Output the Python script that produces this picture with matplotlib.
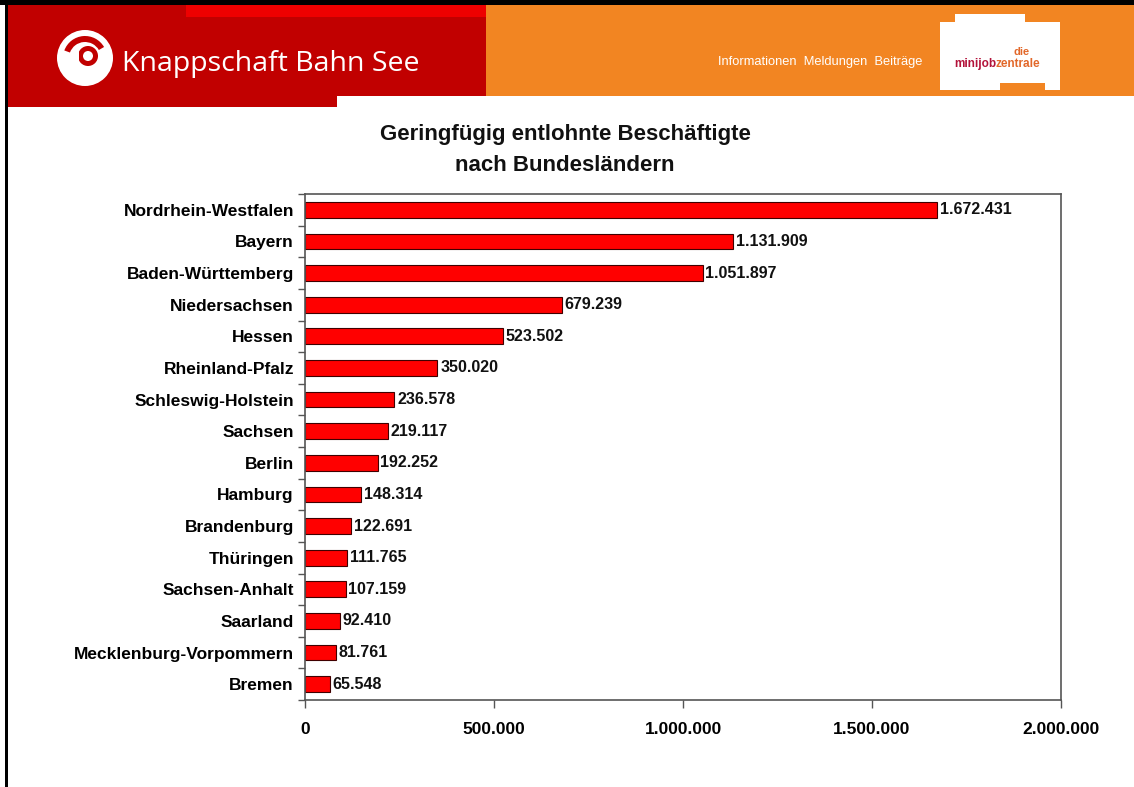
import matplotlib
matplotlib.use("Agg")
import matplotlib.pyplot as plt
from matplotlib.patches import Rectangle, Circle, Polygon, Wedge
from matplotlib.ticker import FuncFormatter, MultipleLocator

plt.rcParams['font.family'] = ['Liberation Sans', 'DejaVu Sans']

categories = ["Nordrhein-Westfalen", "Bayern", "Baden-Württemberg", "Niedersachsen",
              "Hessen", "Rheinland-Pfalz", "Schleswig-Holstein", "Sachsen", "Berlin",
              "Hamburg", "Brandenburg", "Thüringen", "Sachsen-Anhalt", "Saarland",
              "Mecklenburg-Vorpommern", "Bremen"]
values = [1672431, 1131909, 1051897, 679239, 523502, 350020, 236578, 219117, 192252,
          148314, 122691, 111765, 107159, 92410, 81761, 65548]
title = "Geringfügig entlohnte Beschäftigte\nnach Bundesländern"
xmax = 2000000


def de_fmt(v, pos=None):
    return f"{int(v):,}".replace(",", ".")


W, H = 1134, 787
fig = plt.figure(figsize=(W / 100, H / 100), dpi=100)

# --- header decoration layer (pixel coordinates) ---
bg = fig.add_axes([0, 0, 1, 1], zorder=0)
bg.set_xlim(0, W)
bg.set_ylim(H, 0)
bg.axis('off')
dark_red = '#C10000'
bg.add_patch(Rectangle((486, 5), W - 486, 91, color='#F28522', lw=0))
bg.add_patch(Rectangle((7, 5), 479, 91, color=dark_red, lw=0))
bg.add_patch(Rectangle((7, 96), 330, 11, color=dark_red, lw=0))
bg.add_patch(Rectangle((186, 5), 300, 12, color='#EE0000', lw=0))
bg.add_patch(Rectangle((0, 0), W, 5, color='black', lw=0))
bg.add_patch(Rectangle((5, 0), 2.5, H, color='black', lw=0))
# Knappschaft logo (approximation)
bg.add_patch(Circle((85, 58), 28, color='white', lw=0))
bg.add_patch(Wedge((85, 58), 22, 200, 330, width=6, color=dark_red, lw=0))
bg.add_patch(Circle((88, 56), 10, color=dark_red, lw=0))
bg.add_patch(Circle((88, 56), 5, color='white', lw=0))
bg.add_patch(Rectangle((73, 50), 6, 25, color='white', lw=0))
bg.text(122, 64, "Knappschaft Bahn See", color='white', fontsize=20.5,
        family=['Open Sans', 'DejaVu Sans'], va='center', ha='left')
bg.text(922, 62, "Informationen  Meldungen  Beiträge", color='white', fontsize=9.3,
        va='center', ha='right')
# minijob logo box
bg.add_patch(Polygon([(940, 22), (955, 22), (955, 14), (1025, 14), (1025, 22),
                      (1060, 22), (1060, 90), (1045, 90), (1045, 83), (1000, 83),
                      (1000, 90), (940, 90)], closed=True, color='white', lw=0))
bg.text(1022, 57, "die", color='#E2682A', fontsize=8, weight='bold', ha='center', va='bottom')
bg.text(996, 64, "minijob", color='#B3123A', fontsize=8.5, weight='bold', ha='right', va='center')
bg.text(996, 64, "zentrale", color='#E2682A', fontsize=8.5, weight='bold', ha='left', va='center')

# title
bg.text(565, 150, title, ha='center', va='center', fontsize=16, weight='bold',
        color='#111111', linespacing=1.6)

# --- chart ---
ax = fig.add_axes([305 / W, 1 - 700 / H, (1061 - 305) / W, (700 - 194) / H], zorder=2)
ax.patch.set_alpha(0)
y = list(range(len(categories)))
ax.barh(y, values, height=0.5, color='#FF0000', edgecolor='#400000', linewidth=0.8)
ax.set_xlim(0, xmax)
ax.set_ylim(len(categories) - 0.5, -0.5)
ax.set_yticks(y)
ax.set_yticklabels(categories, fontsize=12.5, weight='bold')
ax.set_yticks([i + 0.5 for i in range(-1, len(categories))], minor=True)
ax.tick_params(axis='y', which='major', length=0, pad=8)
ax.tick_params(axis='y', which='minor', length=5, width=1, color='#555555')
ax.xaxis.set_major_locator(MultipleLocator(500000))
ax.xaxis.set_major_formatter(FuncFormatter(de_fmt))
ax.tick_params(axis='x', length=6, width=1, color='#555555', pad=10, labelsize=12.5)
for lab in ax.get_xticklabels():
    lab.set_fontweight('bold')
for s in ax.spines.values():
    s.set_color('#555555')
    s.set_linewidth(1.2)
for yi, v in zip(y, values):
    ax.annotate(de_fmt(v), (v, yi), xytext=(2, 0), textcoords='offset points',
                va='center', ha='left', fontsize=11.5, weight='bold', color='#111111')

fig.savefig("out.png", dpi=100)
